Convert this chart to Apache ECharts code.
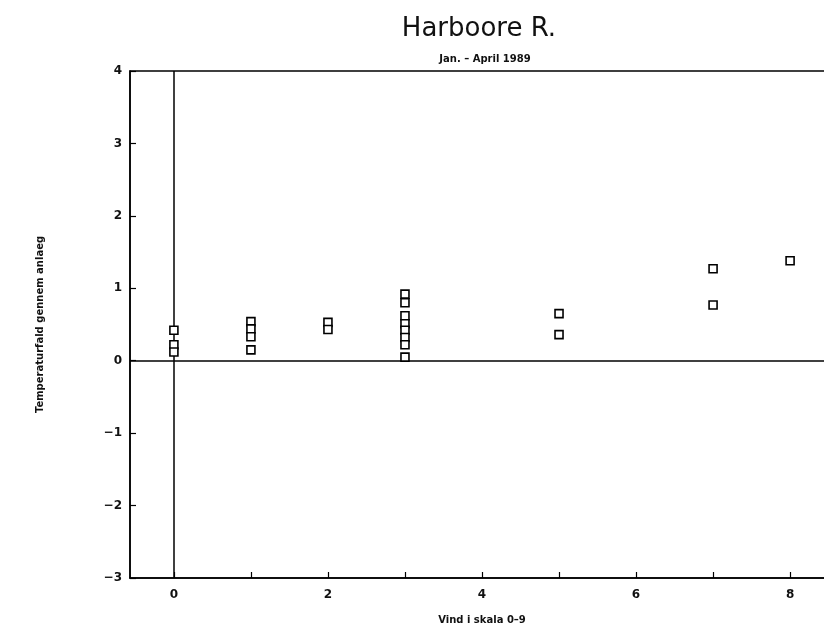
<!DOCTYPE html>
<html>
<head>
<meta charset="utf-8">
<script src="https://cdn.jsdelivr.net/npm/echarts@6/dist/echarts.min.js"></script>
<style>html,body{margin:0;padding:0;background:#fff}#c{width:824px;height:635px}</style>
</head>
<body>
<div id="c"></div>
<script>
// Wind force (Beaufort) and temperature drop through plant
const windX = [0,0,0, 1,1,1,1, 2,2, 3,3,3,3,3,3,3,3, 5,5, 7,7, 8];
const tempDrop = [0.42,0.22,0.12, 0.54,0.44,0.33,0.15, 0.53,0.43, 0.92,0.80,0.62,0.51,0.42,0.32,0.22,0.05, 0.65,0.36, 1.27,0.77, 1.38];
const xTickValues = [0,1,2,3,4,5,6,7,8];
const xLabelValues = [0,2,4,6,8];
const titleText = 'Harboore R.';
const subtitleText = 'Jan. – April 1989';
const xName = 'Vind i skala 0–9';
const yName = 'Temperaturfald gennem anlaeg';

const points = windX.map((x, i) => [x, tempDrop[i]]);
const font = 'DejaVu Sans';

const chart = echarts.init(document.getElementById('c'));
chart.setOption({
  animation: false,
  backgroundColor: '#fff',
  title: [
    { text: titleText, left: 474, top: 11, textAlign: 'center',
      textStyle: { fontFamily: font, fontSize: 26, fontWeight: 'normal', color: '#111' } },
    { text: subtitleText, left: 480, top: 49, textAlign: 'center',
      textStyle: { fontFamily: font, fontSize: 10, fontWeight: 'bold', color: '#111' } }
  ],
  grid: { left: 130, width: 704, top: 71, bottom: 57, show: true, borderColor: '#000', borderWidth: 1.5,
    containLabel: false, outerBoundsMode: 'none' },
  xAxis: {
    type: 'value', min: -0.57, max: 8.57,
    name: xName, nameLocation: 'middle', nameGap: 37,
    nameTextStyle: { fontFamily: font, fontSize: 10, fontWeight: 'bold', color: '#111' },
    axisLine: { show: true, onZero: false, lineStyle: { color: '#000', width: 1.5 } },
    axisTick: { show: true, inside: true, length: 6, customValues: xTickValues, lineStyle: { color: '#000', width: 1.2 } },
    axisLabel: { customValues: xLabelValues, margin: 11, fontFamily: font, fontSize: 12, fontWeight: 'bold', color: '#111' },
    splitLine: { show: false }
  },
  yAxis: {
    type: 'value', min: -3, max: 4, interval: 1,
    name: yName, nameLocation: 'middle', nameGap: 85, nameRotate: 90,
    nameTextStyle: { fontFamily: font, fontSize: 10, fontWeight: 'bold', color: '#111' },
    axisLine: { show: true, onZero: false, lineStyle: { color: '#000', width: 1.5 } },
    axisTick: { show: true, inside: true, length: 6, lineStyle: { color: '#000', width: 1.2 } },
    axisLabel: { margin: 8, fontFamily: font, fontSize: 12, fontWeight: 'bold', color: '#111',
      formatter: v => String(v).replace('-', '\u2212') },
    splitLine: { show: false }
  },
  series: [{
    type: 'scatter',
    data: points,
    symbol: 'rect',
    symbolSize: 8,
    itemStyle: { color: '#fff', borderColor: '#000', borderWidth: 1.6, opacity: 1 },
    z: 5,
    markLine: {
      silent: true, symbol: 'none', label: { show: false },
      lineStyle: { color: '#000', width: 1.5, type: 'solid' },
      data: [{ xAxis: 0 }, { yAxis: 0 }]
    }
  }]
});
</script>
</body>
</html>
